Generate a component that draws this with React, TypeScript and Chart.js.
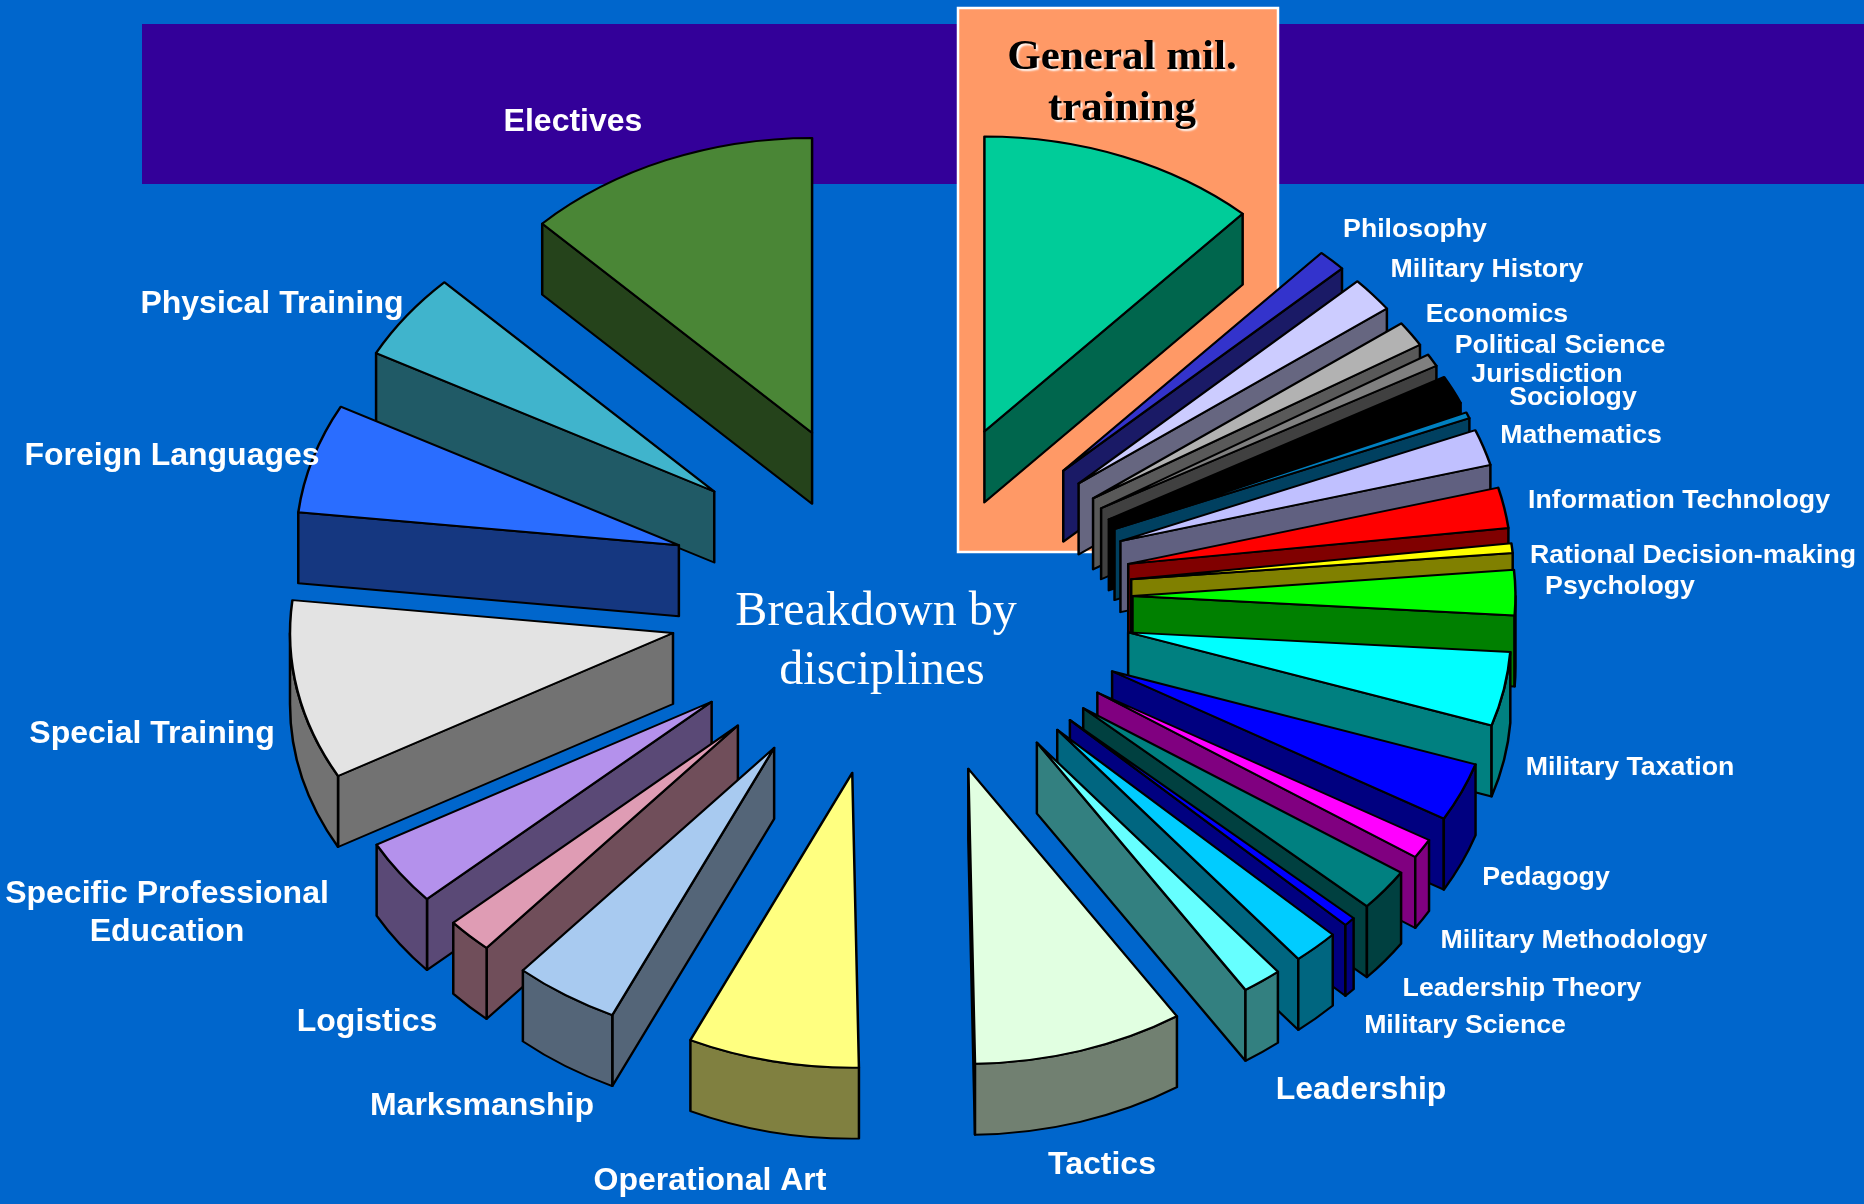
import React, { useEffect, useRef } from "react";
import { Chart, registerables } from "chart.js";

Chart.register(...registerables);

// Slice order runs clockwise from 12 o'clock. Values are shares of the pie in degrees.
const categories = [
  "General mil. training", "Philosophy", "Military History", "Economics", "Political Science",
  "Jurisdiction", "Sociology", "Mathematics", "Information Technology", "Rational Decision-making",
  "Psychology", "Military Taxation", "Pedagogy", "Military Methodology", "Leadership Theory", "",
  "Military Science", "Leadership", "Tactics", "Operational Art", "Marksmanship", "Logistics",
  "Specific Professional\nEducation", "Special Training", "Foreign Languages", "Physical Training", "Electives",
];
const shares = [
  42.4, 4.3, 6.9, 5, 2.5, 5.6, 1.2, 7.1, 8, 1.9, 8.9, 14.6, 11.6, 3.9, 8.3, 1.8, 7, 6, 32, 26, 16, 7, 13, 35.4, 21.6, 17.2, 44.8,
];
const topColors = [
  "#00CC99", "#3333CC", "#CCCCFF", "#B2B2B2", "#808080", "#000000", "#0080C0", "#C0C0FF", "#FF0000", "#FFFF00",
  "#00FF00", "#00FFFF", "#0000FF", "#FF00FF", "#008080", "#0000FF", "#00CCFF", "#66FFFF", "#E1FFE1", "#FFFF80",
  "#A8CAF0", "#DF9CB4", "#B491EC", "#E3E3E3", "#2A6DFF", "#40B4CC", "#4A8636",
];
// Label anchors (layout only), same order as categories, [center x, center y of first line, font size]
const labelLayout: number[][] = [
  [0, 0, 0], [1415, 230, 26.7], [1487, 270, 26.7], [1497, 315, 26.7], [1560, 346, 26.7],
  [1547, 375, 26.7], [1573, 398, 26.7], [1581, 436, 26.7], [1679, 501, 26.7], [1693, 556, 26.7],
  [1620, 587, 26.7], [1630, 768, 26.7], [1546, 878, 26.7], [1574, 941, 26.7], [1522, 989, 26.7], [0, 0, 0],
  [1465, 1026, 26.7], [1361, 1090, 32], [1102, 1165, 32], [710, 1181, 32], [482, 1106, 32], [367, 1022, 32],
  [167, 894, 32], [152, 734, 32], [172, 456, 32], [272, 304, 32], [573, 122, 32],
];
const centerTitle = ["Breakdown by", "disciplines"];
const boxTitle = ["General mil.", "training"];

const TILT = 0.77;
const EXPLODE = 232;
const DEPTH = 71;
const SANS = '"Liberation Sans", Arial, sans-serif';
const SERIF = '"Liberation Serif", "Times New Roman", serif';

function darken(hex: string) {
  const n = parseInt(hex.slice(1), 16);
  const c = (v: number) => Math.round(v / 2);
  return `rgb(${c((n >> 16) & 255)},${c((n >> 8) & 255)},${c(n & 255)})`;
}

const pie3d = {
  id: "pie3d",
  beforeDraw(chart: any) {
    const { ctx, width, height } = chart;
    ctx.save();
    ctx.fillStyle = "#0066CC";
    ctx.fillRect(0, 0, width, height);
    ctx.fillStyle = "#330099";
    ctx.fillRect(142, 24, width - 142, 160);
    ctx.fillStyle = "#FF9966";
    ctx.strokeStyle = "#FFFFFF";
    ctx.lineWidth = 2.5;
    ctx.fillRect(958, 8, 320, 544);
    ctx.strokeRect(958, 8, 320, 544);
    ctx.restore();
  },
  beforeDatasetsDraw(chart: any) {
    const { ctx } = chart;
    const arcs: any[] = chart.getDatasetMeta(0).data;
    const order = arcs
      .map((arc, i) => ({ arc, i, mid: (arc.startAngle + arc.endAngle) / 2 }))
      .sort((a, b) => Math.sin(a.mid) - Math.sin(b.mid));
    const drop = DEPTH / TILT;
    order.forEach(({ arc, i, mid }) => {
      const { x, y, startAngle: a0, endAngle: a1, outerRadius: r } = arc;
      ctx.save();
      ctx.translate(x, y);
      ctx.scale(1, TILT);
      ctx.translate(-x, -y);
      ctx.translate(Math.cos(mid) * EXPLODE, Math.sin(mid) * EXPLODE);
      ctx.fillStyle = darken(topColors[i]);
      ctx.strokeStyle = "#000";
      ctx.lineWidth = 2.5;
      ctx.lineJoin = "round";
      const wall = (a: number) => {
        const ex = x + Math.cos(a) * r;
        const ey = y + Math.sin(a) * r;
        ctx.beginPath();
        ctx.moveTo(x, y);
        ctx.lineTo(ex, ey);
        ctx.lineTo(ex, ey + drop);
        ctx.lineTo(x, y + drop);
        ctx.closePath();
        ctx.fill();
        ctx.stroke();
      };
      if (Math.cos(a0) < 0) wall(a0);
      if (Math.cos(a1) > 0) wall(a1);
      // outer rim: only the part of the arc in the lower half of the ellipse faces the viewer
      const windows = [[0, Math.PI], [2 * Math.PI, 3 * Math.PI], [-2 * Math.PI, -Math.PI]];
      windows.forEach(([lo, hi]) => {
        const s = Math.max(a0, lo);
        const e = Math.min(a1, hi);
        if (e <= s) return;
        ctx.beginPath();
        ctx.arc(x, y, r, s, e);
        ctx.lineTo(x + Math.cos(e) * r, y + Math.sin(e) * r + drop);
        ctx.arc(x, y + drop, r, e, s, true);
        ctx.closePath();
        ctx.fill();
        ctx.stroke();
      });
      arc.draw(ctx);
      ctx.restore();
    });
    return false;
  },
  afterDraw(chart: any) {
    const { ctx } = chart;
    ctx.save();
    ctx.textAlign = "center";
    ctx.textBaseline = "middle";
    ctx.fillStyle = "#FFFFFF";
    categories.forEach((name, i) => {
      if (!name) return;
      const [lx, ly, size] = labelLayout[i];
      if (!size) return;
      ctx.font = `bold ${size}px ${SANS}`;
      name.split("\n").forEach((line, k) => ctx.fillText(line, lx, ly + k * 38));
    });
    ctx.font = `48px ${SERIF}`;
    ctx.fillText(centerTitle[0], 876, 612);
    ctx.fillText(centerTitle[1], 882, 671);
    ctx.font = `bold 43px ${SERIF}`;
    ctx.fillStyle = "#000000";
    ctx.shadowColor = "#FFFFFF";
    ctx.shadowOffsetX = 2;
    ctx.shadowOffsetY = 2;
    ctx.shadowBlur = 2;
    ctx.fillText(boxTitle[0], 1122, 58);
    ctx.fillText(boxTitle[1], 1122, 109);
    ctx.restore();
  },
};

export default function App() {
  const ref = useRef<HTMLCanvasElement>(null);
  useEffect(() => {
    const chart = new Chart(ref.current as HTMLCanvasElement, {
      type: "pie",
      data: {
        labels: categories,
        datasets: [
          {
            data: shares,
            backgroundColor: topColors,
            borderColor: "#000000",
            borderWidth: 2.5,
            borderJoinStyle: "round",
            radius: 383,
          } as any,
        ],
      },
      options: {
        responsive: false,
        animation: false,
        devicePixelRatio: 1,
        events: [],
        layout: { padding: { left: 0, right: 63, top: 0, bottom: 8 } },
        plugins: { legend: { display: false }, tooltip: { enabled: false } },
      },
      plugins: [pie3d as any],
    });
    return () => chart.destroy();
  }, []);
  return (
    <div style={{ position: "fixed", left: 0, top: 0, width: 1864, height: 1204 }}>
      <canvas ref={ref} width={1864} height={1204} style={{ display: "block" }} />
    </div>
  );
}
